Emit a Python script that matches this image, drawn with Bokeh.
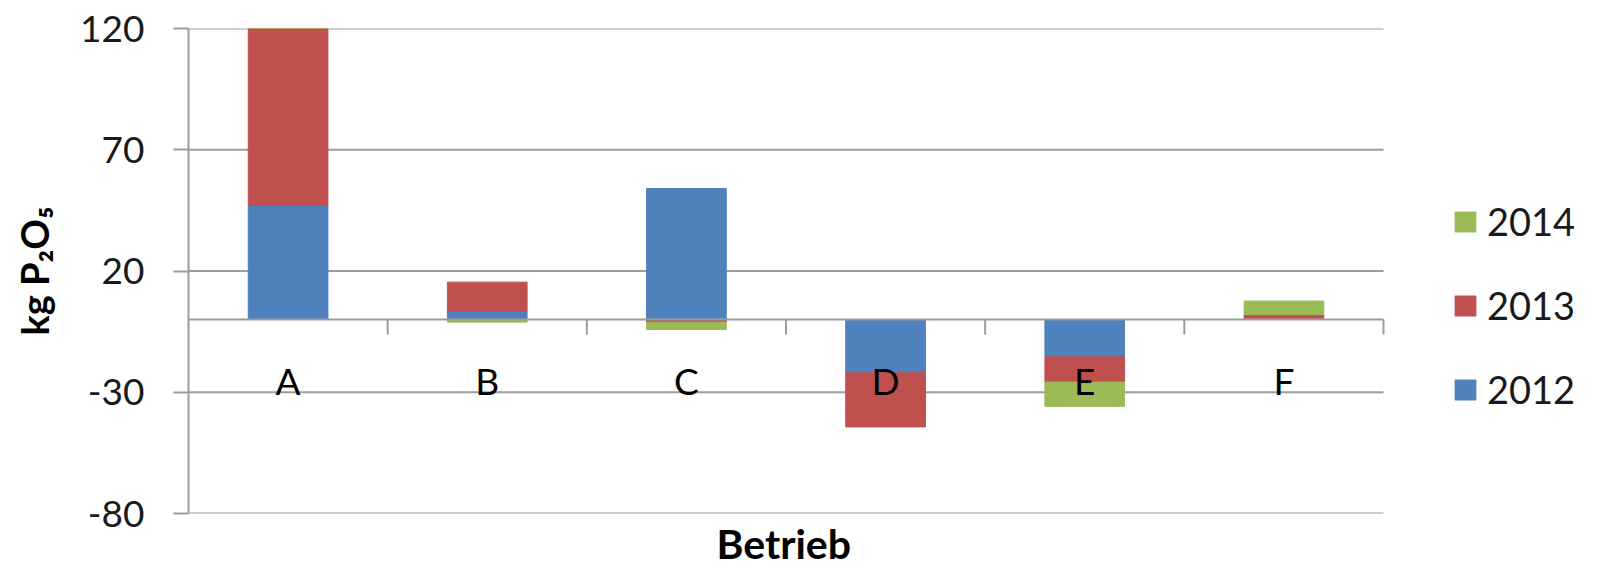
import numpy as np
from bokeh.plotting import figure
from bokeh.models import Range1d, FixedTicker, Legend, LegendItem, ColumnDataSource, Title
from bokeh.core.properties import value
from bokeh.embed import file_html
from bokeh.resources import INLINE

categories = ["A", "B", "C", "D", "E", "F"]
years = ["2012", "2013", "2014"]
v2012 = [47, 3.4, 54, -22, -15.4, 0]
v2013 = [75, 12, -1.1, -22.3, -10.4, 2]
v2014 = [0, -1.1, -3, 0, -10, 5.6]
colors = ["#4F81BD", "#C0504D", "#9BBB59"]
y_ticks = [-80, -30, 20, 70, 120]
y_tick_labels = ["-80", "-30", "20", "70", "120"]

FONT = "Lato"
TXT = "#1a1a1a"
GRID = "#9C9C9C"

W, H = 1600, 570
LEFT, TOP, RIGHT_PAD = 188, 28, 8
FRAME_BOTTOM = 516
BOTTOM = H - FRAME_BOTTOM
DATA_RIGHT = 1383                      # where the category area ends (canvas px)
frame_w = W - LEFT - RIGHT_PAD
n = len(categories)
x_end = n * frame_w / (DATA_RIGHT - LEFT)

p = figure(width=W, height=H, output_backend="svg", toolbar_location=None,
           x_range=Range1d(0, x_end), y_range=Range1d(y_ticks[0], y_ticks[-1]),
           min_border_left=LEFT, min_border_right=RIGHT_PAD, min_border_top=TOP,
           min_border_bottom=BOTTOM)
p.outline_line_color = None
p.background_fill_color = "white"
p.xgrid.visible = False
p.ygrid.visible = False

# gridlines over the category area only
p.segment(x0=np.zeros(len(y_ticks)), x1=np.full(len(y_ticks), n), y0=y_ticks, y1=y_ticks,
          line_color=GRID, line_width=2)

xc = np.arange(n) + 0.5
series = [np.array(v2012, float), np.array(v2013, float), np.array(v2014, float)]
pos_base = np.zeros(n)
neg_base = np.zeros(n)
renderers = []
for vals, col, yr in zip(series, colors, years):
    pos = np.where(vals > 0, vals, 0)
    neg = np.where(vals < 0, vals, 0)
    bottom = np.where(vals >= 0, pos_base, neg_base + neg)
    top = np.where(vals >= 0, pos_base + pos, neg_base)
    pos_base = pos_base + pos
    neg_base = neg_base + neg
    src = ColumnDataSource(dict(x=xc, bottom=bottom, top=top))
    r = p.vbar(x="x", bottom="bottom", top="top", width=0.4, source=src,
               fill_color=col, line_color=col, line_width=1)
    renderers.append((yr, r))

# category axis at zero
p.segment(x0=[0], x1=[n], y0=[0], y1=[0], line_color=GRID, line_width=2)
bounds = np.arange(1, n + 1)
p.segment(x0=bounds, x1=bounds, y0=np.zeros(n), y1=np.full(n, -6.2),
          line_color=GRID, line_width=2)
p.text(x=xc, y=np.zeros(n), text=categories, text_align="center",
       text_baseline="middle", y_offset=61, text_font=value(FONT),
       text_font_size="37px", text_color="black")

# y axis
p.yaxis.ticker = FixedTicker(ticks=y_ticks)
p.yaxis.major_label_overrides = dict(zip(y_ticks, y_tick_labels))
p.yaxis.axis_line_color = GRID
p.yaxis.axis_line_width = 2
p.yaxis.major_tick_line_color = GRID
p.yaxis.major_tick_line_width = 2
p.yaxis.major_tick_out = 15
p.yaxis.major_tick_in = 0
p.yaxis.minor_tick_line_color = None
p.yaxis.major_label_text_font = FONT
p.yaxis.major_label_text_font_size = "37px"
p.yaxis.major_label_text_color = TXT
p.yaxis.major_label_standoff = 29
p.yaxis.axis_label = "kg P₂O₅"
p.yaxis.axis_label_text_font = FONT
p.yaxis.axis_label_text_font_size = "38px"
p.yaxis.axis_label_text_font_style = "bold"
p.yaxis.axis_label_text_color = "black"
p.yaxis.axis_label_standoff = 20

p.xaxis.visible = False
p.add_layout(Title(text="Betrieb", align="left", offset=528, standoff=6,
                   text_font=FONT, text_font_size="41px", text_font_style="bold",
                   text_color="black"), "below")

legend = Legend(items=[LegendItem(label=yr, renderers=[r]) for yr, r in reversed(renderers)],
                location=(1264, 101), orientation="vertical")
legend.glyph_width = 26
legend.glyph_height = 25
legend.label_height = 46
legend.spacing = 38
legend.padding = 0
legend.margin = 0
legend.border_line_color = None
legend.background_fill_alpha = 0
legend.label_text_font = FONT
legend.label_text_font_size = "38px"
legend.label_text_color = TXT
legend.label_standoff = 9
p.add_layout(legend, "center")

open("out.html", "w").write(file_html(p, INLINE))
